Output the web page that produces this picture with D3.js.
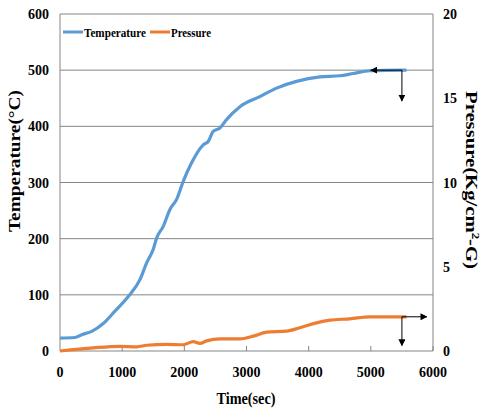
<!DOCTYPE html>
<html><head><meta charset="utf-8">
<script src="https://cdn.jsdelivr.net/npm/d3@7"></script>
<style>body{margin:0;background:#fff}svg{display:block}text{font-family:"Liberation Serif","Times New Roman",serif;font-weight:bold;fill:#000}</style>
</head><body>
<svg id="c" width="482" height="411"></svg>
<script>
const tempTime = [0,241,349,510,696,884,1098,1286,1394,1500,1554,1661,1768,1876,1982,2117,2304,2384,2465,2572,2679,2894,3215,3483,3805,4180,4502,4716,4984,5574];
const tempValues = [23,24,29,35,49,71,97,127,157,181,201,222,252,270,302,335,367,373,391,397,412,435,453,468,480,488,490,494,499,500];
const presTime = [0,536,965,1233,1394,1715,1983,2143,2251,2358,2572,2894,3108,3322,3644,3859,4127,4341,4662,4984,5574];
const presValues = [0,0.19,0.28,0.25,0.34,0.39,0.37,0.56,0.45,0.6,0.72,0.72,0.88,1.12,1.18,1.38,1.67,1.83,1.91,2.03,2.03];
const xTicks = [0,1000,2000,3000,4000,5000,6000];
const yTicks = [0,100,200,300,400,500,600];
const y2Ticks = [0,5,10,15,20];
const seriesNames = ["Temperature","Pressure"];
const colors = ["#5B9BD5","#ED7D31"];

const svg = d3.select("#c");
const L=60,R=433,T=14,B=351;
const x = d3.scaleLinear().domain([0,6000]).range([L,R]);
const y = d3.scaleLinear().domain([0,600]).range([B,T]);
const y2 = d3.scaleLinear().domain([0,20]).range([B,T]);

svg.append("g").selectAll("line").data(yTicks.slice(1)).join("line")
  .attr("x1",L).attr("x2",R).attr("y1",d=>y(d)).attr("y2",d=>y(d))
  .attr("stroke","#858585").attr("stroke-width",1);
svg.append("line").attr("x1",L).attr("x2",L).attr("y1",T).attr("y2",B).attr("stroke","#858585");
svg.append("line").attr("x1",R).attr("x2",R).attr("y1",T).attr("y2",B).attr("stroke","#858585");
svg.append("line").attr("x1",L).attr("x2",R).attr("y1",B).attr("y2",B).attr("stroke","#858585");
svg.append("g").selectAll("line").data(xTicks.slice(1)).join("line")
  .attr("x1",d=>x(d)).attr("x2",d=>x(d)).attr("y1",B).attr("y2",B-5).attr("stroke","#858585");

svg.append("g").selectAll("text").data(xTicks).join("text")
  .attr("x",d=>x(d)).attr("y",377).attr("text-anchor","middle").attr("font-size",14).text(d=>d);
svg.append("g").selectAll("text").data(yTicks).join("text")
  .attr("x",49).attr("y",d=>y(d)+5).attr("text-anchor","end").attr("font-size",14).text(d=>d);
svg.append("g").selectAll("text").data(y2Ticks).join("text")
  .attr("x",443).attr("y",d=>y2(d)+5).attr("text-anchor","start").attr("font-size",14).text(d=>d);

svg.append("text").attr("transform","translate(20,161) rotate(-90)").attr("text-anchor","middle")
  .attr("font-size",17).attr("textLength",142).attr("lengthAdjust","spacingAndGlyphs").text("Temperature(°C)");
const rt = svg.append("text").attr("transform","translate(466,180) rotate(90)").attr("text-anchor","middle")
  .attr("font-size",16).attr("textLength",178).attr("lengthAdjust","spacingAndGlyphs");
rt.append("tspan").text("Pressure(Kg/cm");
rt.append("tspan").attr("font-size",10).attr("dy",-6).text("2");
rt.append("tspan").attr("dy",6).text("-G)");
svg.append("text").attr("x",246).attr("y",404).attr("text-anchor","middle")
  .attr("font-size",17).attr("textLength",59).attr("lengthAdjust","spacingAndGlyphs").text("Time(sec)");

const lineT = d3.line().x((d,i)=>x(tempTime[i])).y(d=>y(d)).curve(d3.curveMonotoneX);
const lineP = d3.line().x((d,i)=>x(presTime[i])).y(d=>y2(d)).curve(d3.curveMonotoneX);
svg.append("path").attr("d",lineT(tempValues)).attr("fill","none").attr("stroke",colors[0]).attr("stroke-width",3.2);
svg.append("path").attr("d",lineP(presValues)).attr("fill","none").attr("stroke",colors[1]).attr("stroke-width",3.2);

const defs = svg.append("defs");
defs.append("marker").attr("id","ah").attr("viewBox","0 0 10 10").attr("refX",9).attr("refY",5)
  .attr("markerWidth",7).attr("markerHeight",7).attr("orient","auto-start-reverse").attr("markerUnits","userSpaceOnUse")
  .append("path").attr("d","M0,0L10,5L0,10Z").attr("fill","#000");
function arrow(x1,y1,x2,y2){svg.append("line").attr("x1",x1).attr("y1",y1).attr("x2",x2).attr("y2",y2)
  .attr("stroke","#000").attr("stroke-width",1).attr("marker-end","url(#ah)");}
arrow(x(5500),y(500),x(5000),y(500));
arrow(x(5500),y(500),x(5500),y(445));
arrow(x(5500),y2(2.03),x(5900),y2(2.03));
arrow(x(5500),y2(2.03),x(5500),y2(0.32));

const lg = svg.append("g");
seriesNames.forEach((n,i)=>{
  const ox = [63,150][i];
  lg.append("line").attr("x1",ox).attr("x2",ox+20).attr("y1",32).attr("y2",32).attr("stroke",colors[i]).attr("stroke-width",3);
  lg.append("text").attr("x",ox+21).attr("y",36.5).attr("font-size",13)
    .attr("textLength",[62,40][i]).attr("lengthAdjust","spacingAndGlyphs").text(n);
});
</script>
</body></html>
